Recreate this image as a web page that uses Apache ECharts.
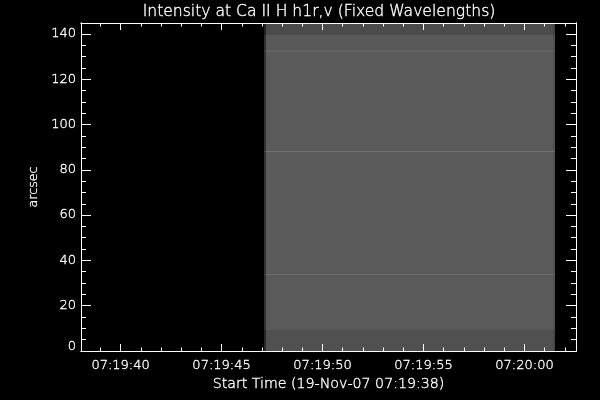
<!DOCTYPE html>
<html><head><meta charset="utf-8">
<style>html,body{margin:0;padding:0;background:#000}#c{width:600px;height:400px}</style>
<script src="https://cdn.jsdelivr.net/npm/echarts@6/dist/echarts.min.js"></script>
</head><body><div id="c"></div>
<script>
// seconds after 07:19:00
const xMin = 38.04, xMax = 62.55;
const xMajorTicks = [40, 45, 50, 55, 60];
const xTickLabels = ['07:19:40', '07:19:45', '07:19:50', '07:19:55', '07:20:00'];
const xMinorTicks = [39,41,42,43,44,46,47,48,49,51,52,53,54,56,57,58,59,61,62];
const yMin = 0, yMax = 144.8;
const yMajorTicks = [0,20,40,60,80,100,120,140];
const yMinorTicks = [5,10,15,25,30,35,45,50,55,65,70,75,85,90,95,105,110,115,125,130,135];
// scan slit rows in arcsec and their intensity (0-255)
const rowEdges  = [0, 9.3, 33.7, 34.2, 87.8, 88.3, 132.2, 132.7, 139.3, 144.8];
const rowValues = [80, 90, 108, 91, 112, 90, 97, 89, 75];
// exposure columns in seconds and their intensity change
const colEdges  = [47.08, 47.18, 61.42, 61.5];
const colShift  = [-40, 0, -10];

const cells = [];
colEdges.slice(0, -1).forEach((c, i) => {
  rowValues.forEach((v, j) => {
    cells.push([c, colEdges[i + 1], rowEdges[j], rowEdges[j + 1], v + colShift[i]]);
  });
});
const white = '#fff';
const fontBase = {color: white, fontFamily: 'DejaVu Sans', fontSize: 13, fontWeight: 200,
  textBorderColor: white, textBorderWidth: 0.35};
const line = {show: true, onZero: false, lineStyle: {color: white, width: 1}};
function xAx(pos, ticks, len, labels, extra) {
  return Object.assign({type: 'value', position: pos, min: xMin, max: xMax, splitLine: {show: false},
    axisLine: line,
    axisTick: {show: true, inside: true, length: len, customValues: ticks, lineStyle: {color: white, width: 1}},
    axisLabel: labels ? Object.assign({show: true, margin: 8, customValues: ticks,
      formatter: v => xTickLabels[xMajorTicks.indexOf(v)] || ''}, fontBase) : {show: false}}, extra || {});
}
function yAx(pos, ticks, len, labels, extra) {
  return Object.assign({type: 'value', position: pos, min: yMin, max: yMax, splitLine: {show: false},
    axisLine: line,
    axisTick: {show: true, inside: true, length: len, customValues: ticks, lineStyle: {color: white, width: 1}},
    axisLabel: labels ? Object.assign({show: true, margin: 5, customValues: ticks,
      formatter: v => v === 0 ? '{z|0}' : String(v),
      rich: {z: Object.assign({}, fontBase, {padding: [0, 0, 8, 0]})}}, fontBase) : {show: false}}, extra || {});
}
const chart = echarts.init(document.getElementById('c'), null, {renderer: 'canvas'});
chart.setOption({
  backgroundColor: '#000',
  animation: false,
  title: {text: 'Intensity at Ca II H h1r,v (Fixed Wavelengths)', left: 314, top: -1, textAlign: 'center',
    textStyle: Object.assign({}, fontBase, {fontSize: 15.6})},
  grid: {left: 81, right: 24, top: 23, bottom: 49},
  xAxis: [
    xAx('bottom', xMajorTicks, 7, true, {name: 'Start Time (19-Nov-07 07:19:38)', nameLocation: 'middle', nameGap: 24,
      nameTextStyle: Object.assign({}, fontBase, {fontSize: 14.2})}),
    xAx('bottom', xMinorTicks, 3.5, false),
    xAx('top', xMajorTicks, 7, false),
    xAx('top', xMinorTicks, 3.5, false)
  ],
  yAxis: [
    yAx('left', yMajorTicks, 10, true, {name: 'arcsec', nameLocation: 'middle', nameGap: 39, nameTextStyle: Object.assign({}, fontBase, {fontSize: 12.6})}),
    yAx('left', yMinorTicks, 5, false),
    yAx('right', yMajorTicks, 10, false),
    yAx('right', yMinorTicks, 5, false)
  ],
  series: [{
    type: 'custom', xAxisIndex: 0, yAxisIndex: 0, clip: true, silent: true,
    encode: {x: [0, 1], y: [2, 3]},
    data: cells,
    z: 0,
    renderItem(params, api) {
      const a = api.coord([api.value(0), api.value(3)]).map(Math.round);
      const b = api.coord([api.value(1), api.value(2)]).map(Math.round);
      const g = api.value(4);
      return {type: 'rect', shape: {x: a[0], y: a[1], width: b[0] - a[0], height: b[1] - a[1]},
        style: {fill: `rgb(${g},${g},${g})`, stroke: null}};
    }
  }]
});
</script></body></html>
